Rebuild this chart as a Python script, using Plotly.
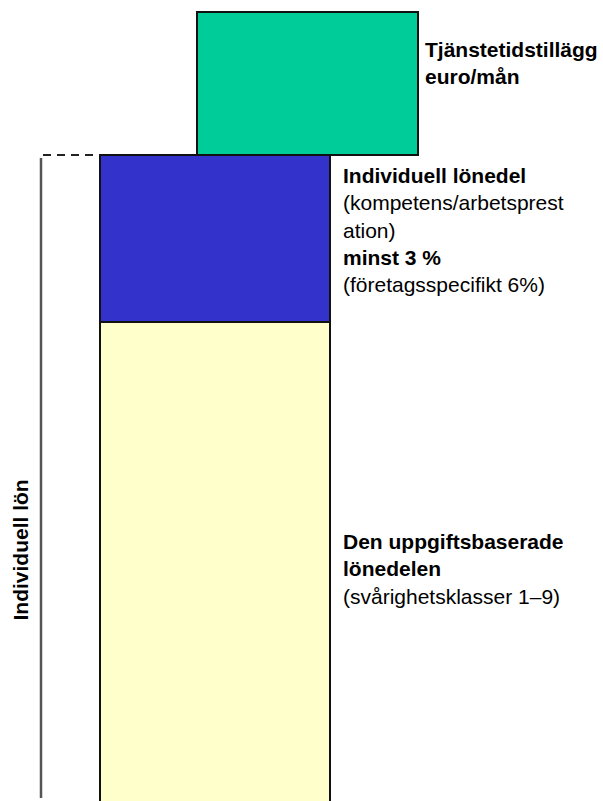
import plotly.graph_objects as go

# ---- data (diagram units: pixels measured upward from the bottom) ----
segments = ["Den uppgiftsbaserade lönedelen", "Individuell lönedel", "Tjänstetidstillägg"]
seg_base = [-6, 479, 646]
seg_height = [485, 167, 143]
seg_center = [215, 215, 307.5]
seg_width = [230, 230, 221]
seg_colors = ["#FFFFCC", "#3333CC", "#00CC99"]

labels = [
    "<b>Den uppgiftsbaserade<br>lönedelen</b><br>(svårighetsklasser 1–9)",
    "<b>Individuell lönedel</b><br>(kompetens/arbetsprest<br>ation)<br><b>minst 3 %</b><br>(företagsspecifikt 6%)",
    "<b>Tjänstetidstillägg<br>euro/mån</b>",
]
label_x = [341, 341, 423]
label_y = [232, 571, 738]

bracket_label = "<b>Individuell lön</b>"

W, H = 603, 801
FONT = "Arial, Liberation Sans, sans-serif"

fig = go.Figure()
for name, b, h, c, w, col in zip(segments, seg_base, seg_height, seg_center, seg_width, seg_colors):
    fig.add_trace(go.Bar(
        x=[c], y=[h], base=[b], width=[w], name=name,
        marker=dict(color=col, line=dict(color="#111111", width=2)),
        hoverinfo="name", showlegend=False,
    ))

# bracket: vertical line up to top of the individual part, dashed link to the bar
top_ind = seg_base[1] + seg_height[1]
left_bar = seg_center[1] - seg_width[1] / 2
fig.add_trace(go.Scatter(x=[41, 41], y=[3, top_ind - 3], mode="lines",
                         line=dict(color="#555555", width=2.5), hoverinfo="skip", showlegend=False))
fig.add_trace(go.Scatter(x=[43, left_bar - 1], y=[top_ind, top_ind], mode="lines",
                         line=dict(color="#222222", width=2, dash="8px,6px"),
                         hoverinfo="skip", showlegend=False))

for t, x, y in zip(labels, label_x, label_y):
    fig.add_annotation(x=x, y=y, text=t, showarrow=False, xanchor="left", yanchor="middle",
                       align="left", font=dict(family=FONT, size=21, color="#000000"))

fig.add_annotation(x=20, y=(3 + top_ind) / 2 - 74, text=bracket_label, showarrow=False,
                   textangle=-90, font=dict(family=FONT, size=21, color="#000000"))

fig.update_layout(
    width=W, height=H, margin=dict(l=0, r=0, t=0, b=0),
    paper_bgcolor="white", plot_bgcolor="white", barmode="overlay",
    xaxis=dict(range=[0, W], visible=False, fixedrange=True),
    yaxis=dict(range=[0, H], visible=False, fixedrange=True),
)
fig.write_html("out.html", config={"displayModeBar": False},
               post_script="document.body.style.margin='0';document.body.style.overflow='hidden';")
